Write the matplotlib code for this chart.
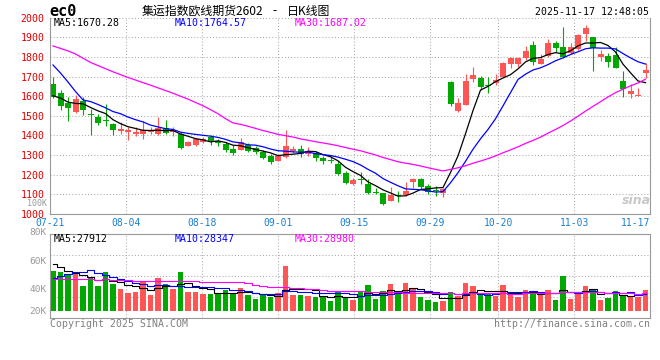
import numpy as np
import matplotlib
matplotlib.use('Agg')
import matplotlib.pyplot as plt

plt.rcParams['font.family'] = ['DejaVu Sans Mono']
CJK = ['Noto Sans CJK SC', 'DejaVu Sans']

# EC2602 daily bars, 07-21 .. 11-17 (80 sessions)
opens = [1661, 1614, 1566, 1518, 1578, 1508, 1492, 1480, 1458, 1425,
         1420, 1405, 1408, 1416, 1408, 1436, 1417, 1407, 1348, 1353,
         1368, 1393, 1373, 1359, 1330, 1328, 1350, 1334, 1318, 1296,
         1271, 1288, 1322, 1330, 1308, 1310, 1284, 1276, 1254, 1211,
         1151, 1178, 1152, 1110, 1105, 1068, 1097, 1097, 1162, 1178,
         1142, 1120, 1106, 1674, 1526, 1555, 1688, 1694, 1656, 1669,
         1700, 1763, 1762, 1797, 1861, 1764, 1805, 1872, 1852, 1818,
         1839, 1915, 1900, 1802, 1805, 1810, 1677, 1612, 1601, 1720]
highs = [1699, 1632, 1595, 1608, 1597, 1535, 1509, 1560, 1465, 1467,
         1441, 1441, 1472, 1441, 1492, 1479, 1441, 1416, 1373, 1386,
         1393, 1402, 1381, 1368, 1352, 1387, 1360, 1344, 1325, 1305,
         1305, 1429, 1347, 1351, 1339, 1322, 1296, 1297, 1271, 1220,
         1185, 1216, 1176, 1134, 1106, 1136, 1117, 1164, 1185, 1181,
         1152, 1142, 1134, 1676, 1590, 1711, 1750, 1703, 1700, 1711,
         1776, 1801, 1801, 1858, 1881, 1813, 1891, 1881, 1954, 1870,
         1915, 1963, 1902, 1836, 1818, 1849, 1730, 1662, 1643, 1767]
lows = [1592, 1528, 1475, 1516, 1504, 1402, 1455, 1450, 1404, 1408,
        1378, 1395, 1381, 1407, 1404, 1410, 1399, 1330, 1344, 1347,
        1361, 1352, 1344, 1317, 1301, 1327, 1314, 1308, 1279, 1254,
        1270, 1287, 1310, 1288, 1296, 1271, 1254, 1259, 1200, 1155,
        1147, 1153, 1100, 1101, 1048, 1066, 1062, 1094, 1134, 1127,
        1101, 1091, 1088, 1550, 1521, 1553, 1674, 1632, 1618, 1657,
        1698, 1742, 1750, 1784, 1759, 1762, 1801, 1827, 1796, 1813,
        1835, 1881, 1730, 1779, 1750, 1742, 1598, 1589, 1600, 1691]
closes = [1598, 1550, 1541, 1587, 1532, 1504, 1463, 1473, 1430, 1431,
          1427, 1418, 1426, 1425, 1440, 1413, 1424, 1336, 1367, 1380,
          1381, 1373, 1362, 1327, 1310, 1367, 1322, 1318, 1285, 1266,
          1295, 1347, 1330, 1305, 1322, 1285, 1272, 1273, 1203, 1157,
          1175, 1175, 1108, 1107, 1050, 1096, 1094, 1117, 1176, 1140,
          1114, 1117, 1126, 1560, 1563, 1677, 1708, 1649, 1653, 1683,
          1771, 1793, 1796, 1830, 1776, 1788, 1872, 1844, 1802, 1852,
          1912, 1946, 1844, 1815, 1776, 1746, 1635, 1626, 1605, 1734]
# volume, thousand lots
volumes = [65.7, 64.0, 60.2, 61.8, 40.8, 53.5, 40.8, 64.0, 44.2, 35.9,
           29.8, 30.9, 47.5, 25.9, 54.1, 44.2, 35.9, 64.0, 30.9, 30.9,
           27.6, 27.6, 27.6, 34.2, 27.6, 37.5, 25.9, 19.3, 25.9, 23.2,
           29.3, 74.0, 25.9, 25.9, 24.3, 22.6, 22.6, 16.0, 32.6, 22.6,
           17.7, 32.6, 42.5, 19.3, 32.6, 44.2, 27.6, 45.8, 37.5, 22.6,
           17.7, 14.4, 16.0, 30.9, 24.3, 45.8, 40.8, 25.9, 29.3, 24.3,
           42.5, 25.9, 22.6, 34.2, 29.3, 29.3, 34.2, 17.7, 57.4, 19.3,
           29.3, 40.8, 34.2, 17.7, 21.0, 32.6, 25.9, 24.3, 22.6, 34.2]

# the 29 sessions before 07-21 are off the chart; estimated back from the
# MA lines, they only seed the moving averages
prior_close = [1930, 1925, 2050, 2180, 2150, 1941, 1951, 1908, 1864, 1860,
               1810, 1818, 1817, 1851, 1824, 1835, 1790, 1810, 1890, 1890,
               1960, 2000, 2070, 1960, 1590, 1610, 1643, 1620, 1541]
prior_vol = [55.2, 60.7, 52.4, 58.0, 66.2, 54.1, 56.3, 60.7, 51.3, 46.9,
             44.2, 49.7, 43.1, 48.6, 45.3, 47.5, 44.2, 46.4, 50.8, 45.3,
             30.4, 33.1, 27.6, 34.2, 32.0, 91.6, 96.0, 75.6, 60.2]

tick_days = [0, 10, 20, 30, 40, 50, 59, 69, 79]
tick_labels = ['07-21', '08-04', '08-18', '09-01', '09-15', '09-29', '10-20', '11-03', '11-17']
price_ticks = list(range(1000, 2001, 100))
ma_windows = [5, 10, 30]
price_ma_text = ['MA5:1670.28', 'MA10:1764.57', 'MA30:1687.02']
vol_ma_text = ['MA5:27912', 'MA10:28347', 'MA30:28980']
vol_labels = ['100K', '80K', '60K', '40K', '20K']

RED = '#ff5555'
GREEN = '#00a800'
MA_COLORS = ['black', '#0000ff', '#ff00ff']
GRID = '#aaaaaa'
FRAME = '#999999'
DOTS = (0, (1, 2))


def moving_avg(prior, values, n):
    full = np.array(prior + values, dtype=float)
    out = np.convolve(full, np.ones(n) / n, mode='valid')
    return out[-len(values):]


W, H = 660, 360
fig = plt.figure(figsize=(6.6, 3.6), dpi=100)


def fx(px):
    return px / W


def fy(py):
    return 1 - py / H


x = np.arange(len(closes))
o = np.array(opens, float)
c = np.array(closes, float)
colors = np.where(c >= o, RED, GREEN)
x0, x1 = -0.4, 79.6
# sina spaces the date grid over the full width, not on the candles
grid_x = [x0 + d * (x1 - x0) / 79 for d in tick_days]

# price panel
ax = fig.add_axes([fx(50), fy(214), fx(600), (214 - 17.7) / H])
ax.set_xlim(x0, x1)
ax.set_ylim(1000, 2000)
ax.set_axisbelow(True)
ax.grid(True, color=GRID, linestyle=DOTS, linewidth=0.75)
ax.vlines(x, lows, highs, colors=colors, linewidth=0.8)
body_low = np.minimum(o, c)
body_h = np.abs(c - o)
flat = body_h < 4
body_low[flat] = ((o + c) / 2)[flat] - 2
body_h[flat] = 4
ax.bar(x, body_h, bottom=body_low, width=0.8, color=colors, linewidth=0)
for n, col in zip(ma_windows, MA_COLORS):
    ax.plot(x, moving_avg(prior_close, closes, n), color=col, linewidth=0.9)

ax.set_yticks(price_ticks)
ax.tick_params(axis='y', length=0, pad=4, labelcolor='#e00000', labelsize=7.1)
ax.set_xticks(grid_x)
ax.set_xticklabels(tick_labels)
ax.tick_params(axis='x', length=0, pad=3, labelcolor='#1a7fd4', labelsize=7)
ax.get_xticklabels()[-1].set_horizontalalignment('right')
for s in ['left', 'right', 'bottom']:
    ax.spines[s].set_color(FRAME)
ax.spines['top'].set_visible(False)

# volume panel
axv = fig.add_axes([fx(50), fy(317.7), fx(600), 83.4 / H])
axv.set_xlim(x0, x1)
v_lo, v_hi = -11.6, 126.5
axv.set_ylim(v_lo, v_hi)
axv.set_axisbelow(True)
axv.set_xticks(grid_x)
axv.set_yticks([v_lo + k * (v_hi - v_lo) / 4 for k in (1, 2, 3)])
axv.set_xticklabels([])
axv.set_yticklabels([])
axv.tick_params(length=0)
axv.grid(True, color=GRID, linestyle=DOTS, linewidth=0.75)
axv.bar(x, volumes, width=0.76, color=colors, linewidth=0)
for n, col in zip(ma_windows, MA_COLORS):
    axv.plot(x, moving_avg(prior_vol, volumes, n), color=col, linewidth=0.8,
             drawstyle='steps-mid')
for s in axv.spines.values():
    s.set_color(FRAME)

# texts
fig.text(fx(49), fy(12), 'ec0', fontsize=11, fontweight='bold', va='center')
fig.text(fx(142), fy(11), '集运指数欧线期货2602', family=CJK, fontsize=8.6, va='center')
fig.text(fx(275), fy(11), '-', family=CJK, fontsize=8.6, va='center', ha='center')
fig.text(fx(287), fy(11), '日K线图', family=CJK, fontsize=8.6, va='center')
fig.text(fx(649), fy(12), '2025-11-17 12:48:05', fontsize=7.1, va='center', ha='right')

for txt, col, px in zip(price_ma_text, MA_COLORS, [54, 175, 295]):
    fig.text(fx(px), fy(23.5), txt, color=col, fontsize=7.1, va='center')
for txt, col, px in zip(vol_ma_text, MA_COLORS, [54, 175, 295]):
    fig.text(fx(px), fy(238.5), txt, color=col, fontsize=7.1, va='center')

# the volume scale labels; the top one sits inside the price panel as on sina
for txt, py, sz in zip(vol_labels, [204, 232.5, 261, 290, 311], [6.0, 6.8, 6.8, 6.8, 6.8]):
    fig.text(fx(47), fy(py), txt, color='#999999', fontsize=sz, va='center', ha='right')

fig.text(fx(50), fy(324), 'Copyright 2025 SINA.COM', color='#808080', fontsize=7.1, va='center')
fig.text(fx(650), fy(324), 'http://finance.sina.com.cn', color='#808080', fontsize=7.1,
         va='center', ha='right')
fig.text(fx(636), fy(200), 'sina', color='#c8c8c8', fontsize=9, fontweight='bold',
         style='italic', family='DejaVu Sans', va='center', ha='center')

fig.savefig('out.png', dpi=100)
